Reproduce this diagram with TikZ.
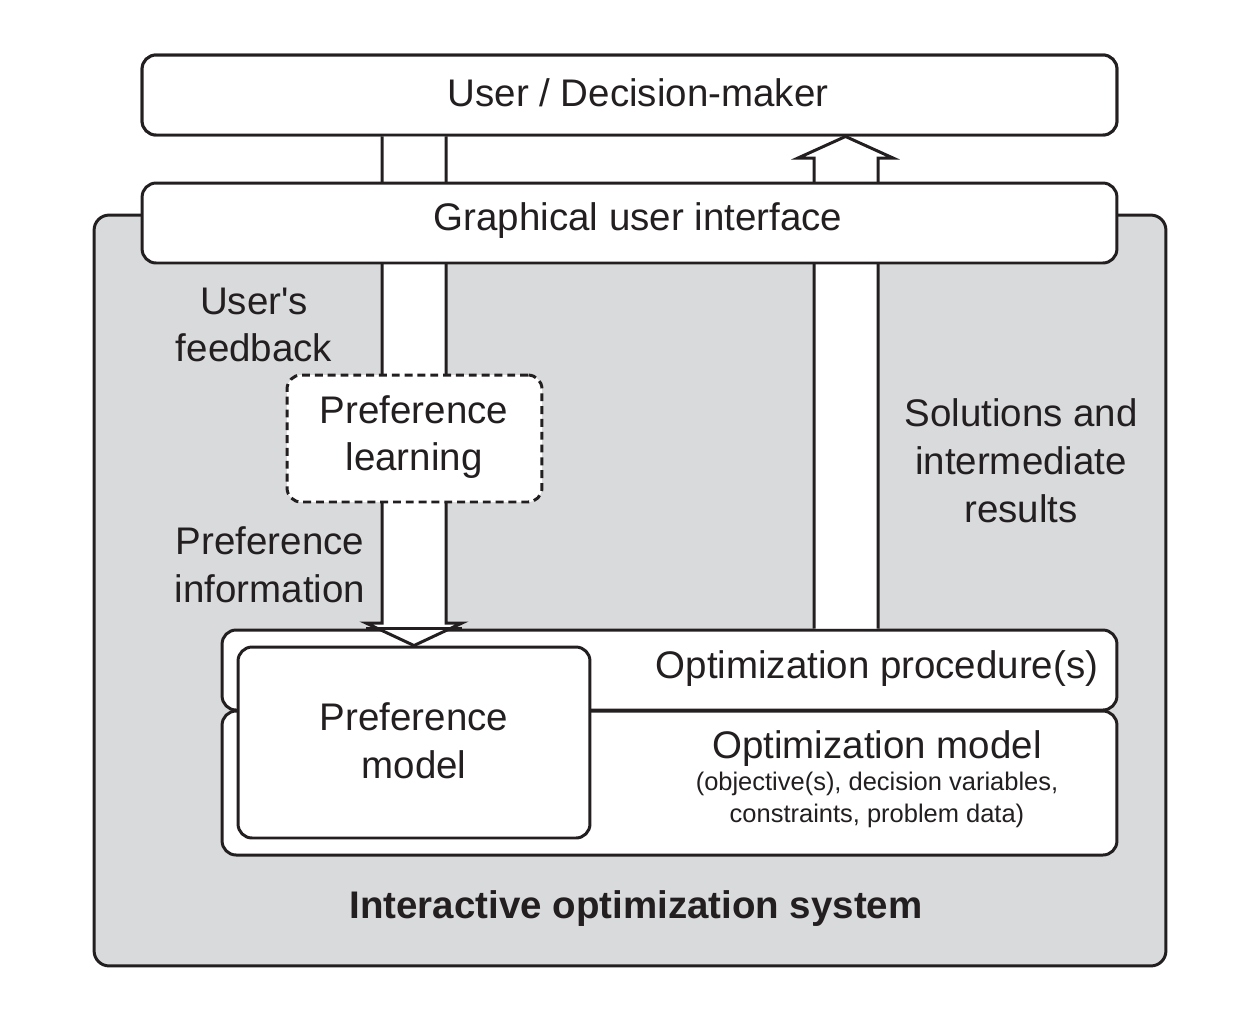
\documentclass[tikz,border=0pt]{standalone}
\usepackage{fontspec}
\setmainfont{Liberation Sans}
\usetikzlibrary{calc}
\definecolor{ink}{HTML}{231F20}
\definecolor{sysgray}{HTML}{D9DADC}
\tikzset{
  bigtxt/.style={font=\fontsize{21.9}{27.2}\selectfont, text=ink, align=center, inner sep=0pt},
  smalltxt/.style={font=\fontsize{14.5}{18}\selectfont, text=ink, align=center, inner sep=0pt},
  box/.style={draw=ink, line width=1.7pt, rounded corners=0.28cm, fill=white, inner sep=0pt},
  sysbox/.style={draw=ink, line width=1.7pt, rounded corners=0.3cm, fill=sysgray, inner sep=0pt},
  dashbox/.style={box, dash pattern=on 4.5pt off 2.8pt},
  fatarrow/.style={draw=ink, line width=1.7pt, fill=white, line join=miter},
}
\begin{document}
\begin{tikzpicture}[x=0.02cm, y=-0.02cm]
\useasboundingbox (0,0) rectangle (1246,1012);

% system frame
\node[sysbox, minimum width=21.44cm, minimum height=15.02cm] (sys) at (630,590.5) {};

% optimization model / procedure
\node[box, minimum width=17.9cm, minimum height=2.88cm] (model) at (669.5,783) {};
\node[box, minimum width=17.9cm, minimum height=1.6cm] (proc) at (669.5,670) {};
\node[box, minimum width=7.04cm, minimum height=3.82cm] (pmodel) at (414,742.5) {};

% top box (position)
\node[box, minimum width=19.5cm, minimum height=1.6cm] (user) at (629.5,95) {};

% arrow coordinates
\coordinate (la) at (382,0);
\coordinate (lb) at (446,0);
\coordinate (lw1) at (366,623);
\coordinate (lw2) at (462,623);
\coordinate (ra) at (814,0);
\coordinate (rb) at (878,0);
\coordinate (rw1) at (798,158);
\coordinate (rw2) at (893,158);
\coordinate (rtip) at (845.5,0);

% left fat arrow: user -> preference model
\path[fatarrow] (la |- user.south) -- (la |- lw1) -- (lw1) -- (pmodel.north) -- (lw2) -- (lb |- lw2) -- (lb |- user.south);
\draw[ink, line width=1.7pt] (proc.north -| lw1) -- (proc.north -| lw2);

% right fat arrow: procedure -> user
\path[fatarrow] (ra |- proc.north) -- (ra |- rw1) -- (rw1) -- (rtip |- user.south) -- (rw2) -- (rb |- rw2) -- (rb |- proc.north);

% boxes on top
\node[box, minimum width=19.5cm, minimum height=1.6cm] (user2) at (user) {};
\node[box, minimum width=19.5cm, minimum height=1.6cm] (gui) at (629.5,223) {};
\node[dashbox, minimum width=5.1cm, minimum height=2.54cm] (plearn) at (414.5,438.5) {};

% texts
\node[bigtxt] (tuser) at (638,93) {User / Decision-maker};
\node[bigtxt] (tgui) at (638,221) {Graphical user interface};
\node[bigtxt] (tfeed) at (254,325) {User\textquotesingle s\\feedback};
\node[bigtxt] (tplearn) at (414,437) {Preference\\learning};
\node[bigtxt] (tpinfo) at (270,565) {Preference\\information};
\node[bigtxt] (tsol) at (1021,461) {Solutions and\\intermediate\\results};
\node[bigtxt] (tproc) at (877,669) {Optimization procedure(s)};
\node[bigtxt] (tmodel) at (877,749) {Optimization model};
\node[smalltxt] (tmodel2) at (877,800) {(objective(s), decision variables,\\constraints, problem data)};
\node[bigtxt] (tpmodel) at (414,741) {Preference\\model};
\node[bigtxt, font=\fontsize{21.9}{27.2}\selectfont\bfseries] (tsys) at (636,909) {Interactive optimization system};
\end{tikzpicture}
\end{document}
